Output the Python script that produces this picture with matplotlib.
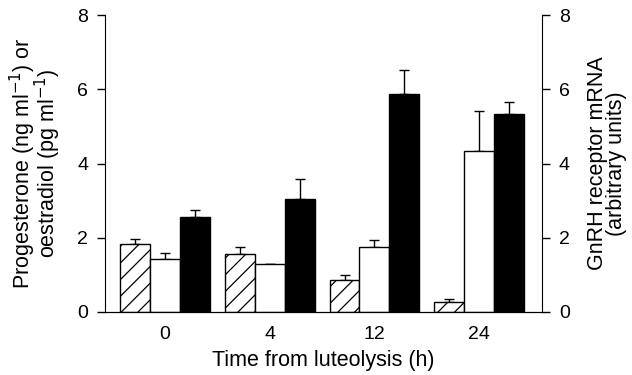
import numpy as np
import matplotlib.pyplot as plt

# Daten
times = ['0', '4', '12', '24']
progesterone = [1.83, 1.55, 0.86, 0.28]
progesterone_err = [0.13, 0.19, 0.13, 0.08]
oestradiol = [1.43, 1.28, 1.74, 4.33]
oestradiol_err = [0.15, 0.0, 0.21, 1.08]
gnrh_mrna = [2.57, 3.05, 5.86, 5.34]
gnrh_mrna_err = [0.18, 0.53, 0.65, 0.32]

plt.rcParams['font.family'] = ['Liberation Sans', 'DejaVu Sans']
plt.rcParams['hatch.linewidth'] = 0.9

fig = plt.figure(figsize=(6.32, 3.75), dpi=100)
ax = fig.add_axes([0.166, 0.168, 0.692, 0.792])

x = np.arange(len(times))
w = 0.286

series = [
    (progesterone, progesterone_err, 'white', '//', -w),
    (oestradiol, oestradiol_err, 'white', '', 0.0),
    (gnrh_mrna, gnrh_mrna_err, 'black', '', w),
]
for vals, err, col, hatch, off in series:
    ax.bar(x + off, vals, w, color=col, edgecolor='black', hatch=hatch,
           linewidth=1.0, zorder=2)
    low = np.zeros(len(vals))
    ax.errorbar(x + off, vals, yerr=[low, err], fmt='none', ecolor='black',
                elinewidth=1.0, capsize=3.6, capthick=1.0, zorder=1)

ax.set_xlim(-0.571, 3.6)
ax.set_ylim(0, 8)
ax.set_yticks([0, 2, 4, 6, 8])
ax.set_xticks(x)
ax.set_xticklabels(times)
ax.tick_params(axis='x', length=0, labelsize=14, pad=10)
ax.tick_params(axis='y', length=6, labelsize=14, width=1, pad=6)
ax.spines['top'].set_visible(False)
ax.spines['right'].set_visible(False)
ax.set_xlabel('Time from luteolysis (h)', fontsize=15.5, labelpad=5)
ax.set_ylabel('Progesterone (ng ml$^{-1}$) or\noestradiol (pg ml$^{-1}$)',
              fontsize=15.5, labelpad=10, linespacing=0.8)

ax2 = ax.twinx()
ax2.set_ylim(0, 8)
ax2.set_yticks([0, 2, 4, 6, 8])
ax2.tick_params(axis='y', length=6, labelsize=14, width=1, pad=6)
ax2.spines['top'].set_visible(False)
ax2.spines['left'].set_visible(False)
ax2.set_ylabel('GnRH receptor mRNA\n(arbitrary units)', fontsize=15.5,
               rotation=90, labelpad=12, linespacing=0.9)

fig.savefig('out.png', dpi=100)
